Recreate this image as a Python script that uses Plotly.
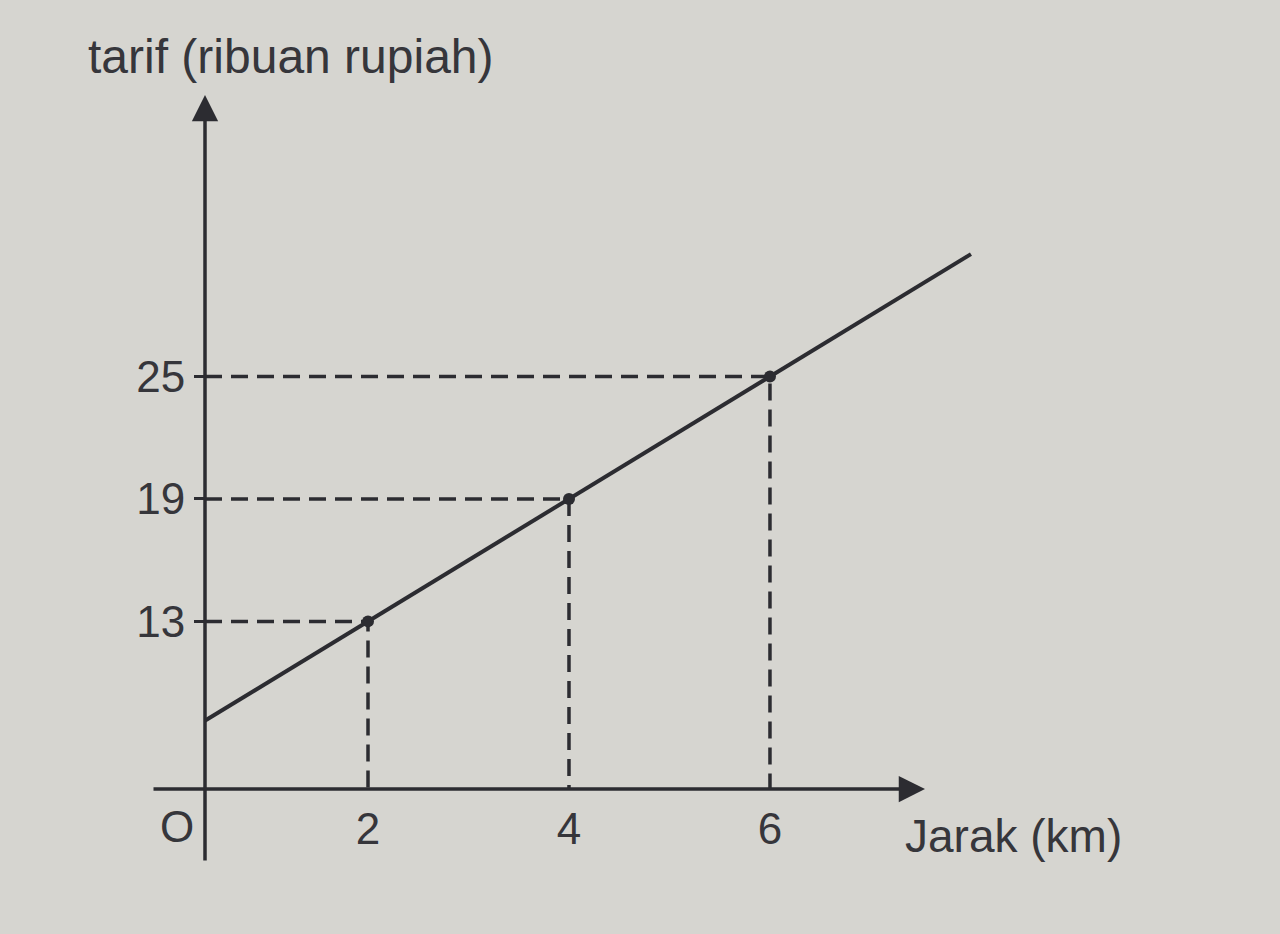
import plotly.graph_objects as go

# ---- data ----
jarak_km = [2, 4, 6]                 # marked points (x)
tarif_ribu = [13, 19, 25]            # marked points (y, ribuan rupiah)
line_jarak = [0, 8]                  # extent of the tariff line
line_tarif = [7, 31]
x_tick_vals = [2, 4, 6]
x_tick_text = ["2", "4", "6"]
y_tick_vals = [13, 19, 25]
y_tick_text = ["13", "19", "25"]

# ---- style ----
BG = "#d6d5d0"
INK = "#2c2c31"
TXT = "#36363b"
FONT = "Liberation Sans, Arial, sans-serif"
XR = [0.378, 8.289]
YR = [4.784, 38.80]
L, R, T, B = 205, 280, 95, 145
W, H = 1280, 934
PW, PH = W - L - R, H - T - B

fig = go.Figure()

# dashed guide lines from each point to the axes
for px, py in zip(jarak_km, tarif_ribu):
    fig.add_trace(go.Scatter(
        x=[XR[0], px, px], y=[py, py, YR[0]], mode="lines",
        line=dict(color=INK, width=3.5, dash="17px,9px"),
        hoverinfo="skip", showlegend=False))

# main tariff line
fig.add_trace(go.Scatter(
    x=line_jarak, y=line_tarif, mode="lines",
    line=dict(color=INK, width=4), showlegend=False))

# marked points
fig.add_trace(go.Scatter(
    x=jarak_km, y=tarif_ribu, mode="markers",
    marker=dict(color=INK, size=12), showlegend=False))

def px2paper_x(p):
    return (p - L) / PW

def px2paper_y(p):
    return (H - B - p) / PH

annotations = [
    # x-axis with arrow
    dict(x=px2paper_x(925), y=0, xref="paper", yref="paper", text="",
         showarrow=True, ax=-(925 - 152), ay=0, arrowhead=2, arrowsize=1.5,
         arrowwidth=3.5, arrowcolor=INK),
    # y-axis with arrow
    dict(x=0, y=1, xref="paper", yref="paper", text="",
         showarrow=True, ax=0, ay=(862 - T), arrowhead=2, arrowsize=1.5,
         arrowwidth=3.5, arrowcolor=INK),
    # origin label
    dict(x=px2paper_x(177), y=px2paper_y(826), xref="paper", yref="paper",
         text="O", showarrow=False, xanchor="center", yanchor="middle",
         font=dict(family=FONT, size=44, color=TXT)),
    # y title
    dict(x=px2paper_x(86), y=px2paper_y(56), xref="paper", yref="paper",
         text="tarif (ribuan rupiah)", showarrow=False, xanchor="left",
         yanchor="middle", font=dict(family=FONT, size=48, color=TXT)),
    # x title
    dict(x=px2paper_x(903), y=px2paper_y(836), xref="paper", yref="paper",
         text="Jarak (km)", showarrow=False, xanchor="left",
         yanchor="middle", font=dict(family=FONT, size=46, color=TXT)),
]

fig.update_layout(
    width=W, height=H,
    margin=dict(l=L, r=R, t=T, b=B),
    paper_bgcolor=BG, plot_bgcolor=BG,
    showlegend=False,
    annotations=annotations,
    xaxis=dict(range=XR, showgrid=False, zeroline=False, showline=False,
               tickvals=x_tick_vals, ticktext=x_tick_text, ticks="",
               ticklabelstandoff=10,
               tickfont=dict(family=FONT, size=44, color=TXT)),
    yaxis=dict(range=YR, showgrid=False, zeroline=False, showline=False,
               tickvals=y_tick_vals, ticktext=y_tick_text, ticks="outside",
               ticklen=10, tickwidth=3, tickcolor=INK,
               tickfont=dict(family=FONT, size=44, color=TXT)),
)

fig.write_html(
    "out.html",
    config={"displayModeBar": False},
    post_script="document.body.style.margin='0';document.body.style.background='" + BG + "';",
)
